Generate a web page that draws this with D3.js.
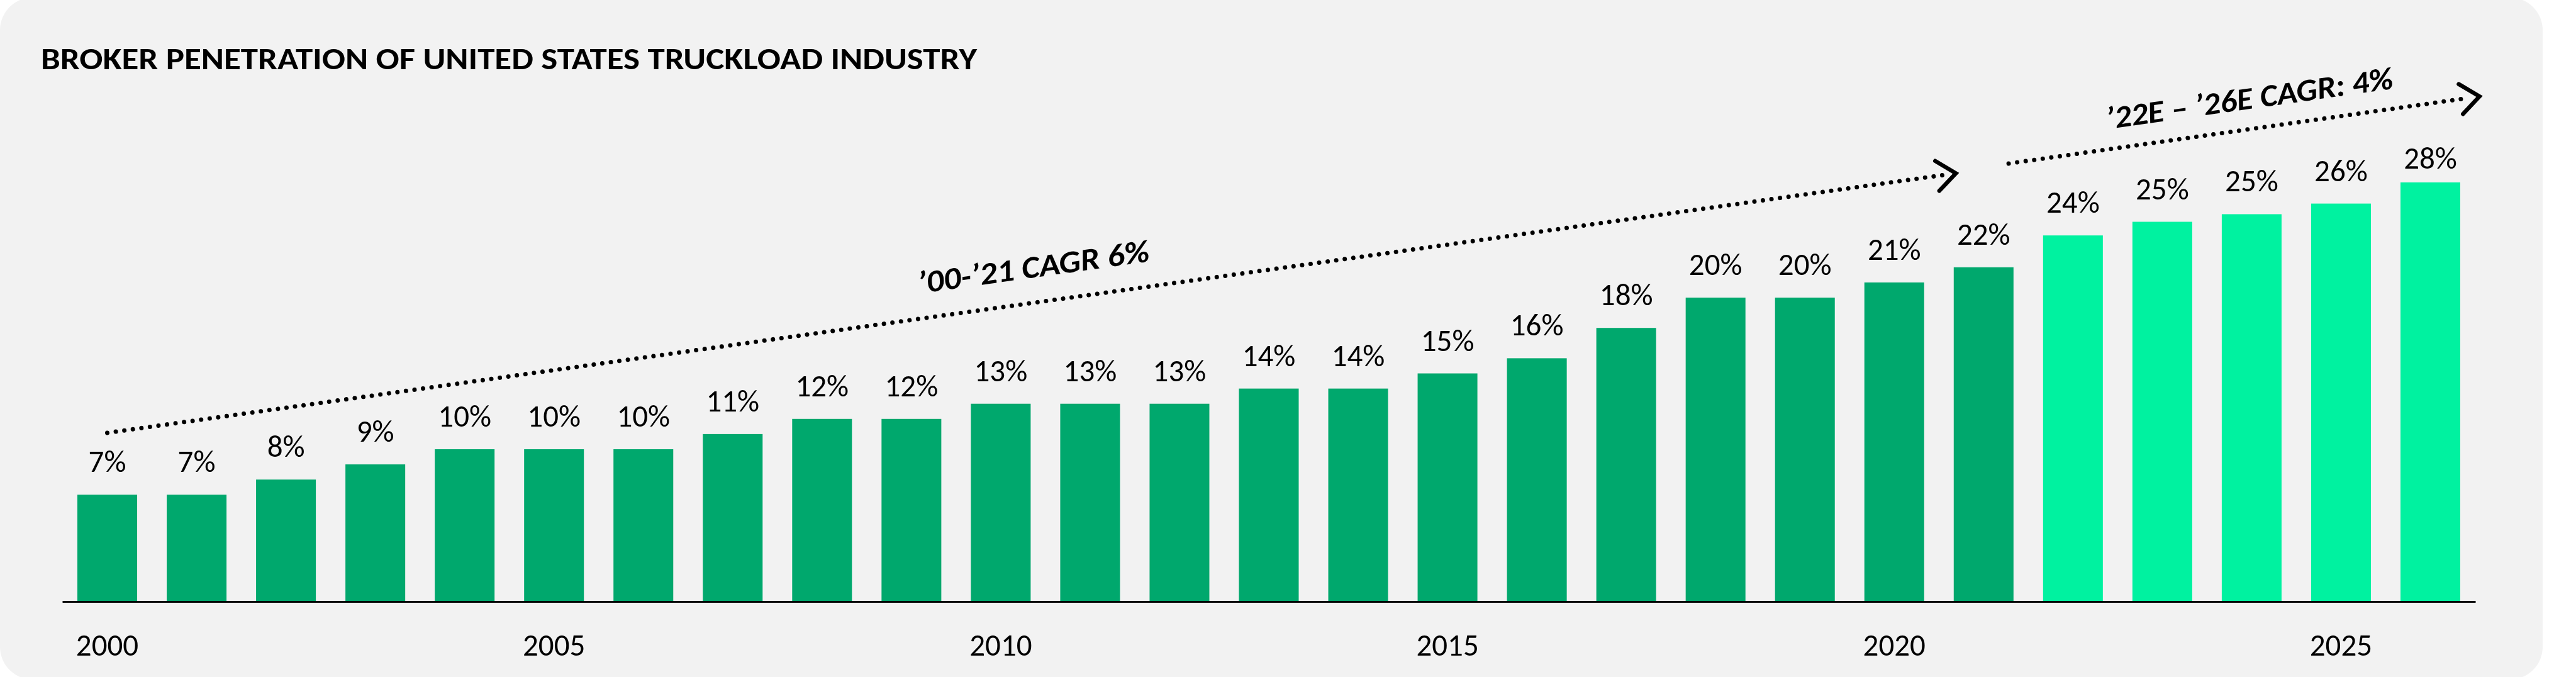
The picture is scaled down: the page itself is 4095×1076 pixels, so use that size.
<!DOCTYPE html>
<html>
<head>
<meta charset="utf-8">
<script src="https://cdn.jsdelivr.net/npm/d3@7"></script>
<style>
  html, body { margin: 0; padding: 0; background: #ffffff; }
  svg { display: block; }
  text { font-family: Carlito, Calibri, Lato, "Noto Sans", sans-serif; fill: #000; }
</style>
</head>
<body>
<svg id="chart" width="4095" height="1076"></svg>
<script>
// ---------------- data ----------------
const title = "BROKER PENETRATION OF UNITED STATES TRUCKLOAD INDUSTRY";
const years = [2000, 2001, 2002, 2003, 2004, 2005, 2006, 2007, 2008, 2009,
               2010, 2011, 2012, 2013, 2014, 2015, 2016, 2017, 2018, 2019,
               2020, 2021, 2022, 2023, 2024, 2025, 2026];
const values = [7, 7, 8, 9, 10, 10, 10, 11, 12, 12,
                13, 13, 13, 14, 14, 15, 16, 18, 20, 20,
                21, 22, 24.1, 25, 25.5, 26.2, 27.6];
const valueLabels = ["7%", "7%", "8%", "9%", "10%", "10%", "10%", "11%", "12%", "12%",
                     "13%", "13%", "13%", "14%", "14%", "15%", "16%", "18%", "20%", "20%",
                     "21%", "22%", "24%", "25%", "25%", "26%", "28%"];
const forecastStartYear = 2022;
const tickYears = [2000, 2005, 2010, 2015, 2020, 2025];
// CAGR annotations: [start year-index, start value], [end year-index, end value]
const cagrLabels = ["\u201900-\u201921 CAGR 6%", "\u201922E \u2013 \u201926E CAGR: 4%"];
const cagrStart = [[0, 11.08], [21.28, 28.84]];
const cagrEnd   = [[20.69, 28.2], [26.55, 33.27]];
const cagrLabelPos = [[10.38, 21.33], [23.99, 32.45]];

// ---------------- layout ----------------
const axisY = 956;
const colorActual = "#00A86D";
const colorForecast = "#00F2A0";

const svg = d3.select("#chart");

// panel background
svg.append("rect")
  .attr("x", 0).attr("y", -4)
  .attr("width", 4042).attr("height", 1084)
  .attr("rx", 52).attr("ry", 52)
  .attr("fill", "#F2F2F2");

// title
svg.append("text")
  .attr("x", 65).attr("y", 110)
  .attr("font-size", 48)
  .attr("font-weight", 700)
  .attr("textLength", 1488)
  .attr("lengthAdjust", "spacingAndGlyphs")
  .text(title);

// scales
const x = d3.scaleBand()
  .domain(years)
  .range([99, 3935])
  .paddingInner(0.331)
  .paddingOuter(0.169);

const y = d3.scaleLinear()
  .domain([0, 30])
  .range([axisY - 1, axisY - 1 - 30 * 24.1]);

// continuous index scale mapping year-index to band centre (for annotations)
const xi = d3.scaleLinear()
  .domain([0, years.length - 1])
  .range([x(years[0]) + x.bandwidth() / 2, x(years[years.length - 1]) + x.bandwidth() / 2]);

const data = years.map((yr, i) => ({ year: yr, value: values[i], label: valueLabels[i], last: i === years.length - 1 }));

// bars
svg.append("g").selectAll("rect")
  .data(data)
  .join("rect")
  .attr("x", d => x(d.year))
  .attr("width", x.bandwidth())
  .attr("y", d => y(d.value))
  .attr("height", d => y(0) - y(d.value))
  .attr("fill", d => d.year >= forecastStartYear ? colorForecast : colorActual);

// value labels
svg.append("g").selectAll("text")
  .data(data)
  .join("text")
  .attr("x", d => x(d.year) + x.bandwidth() / 2)
  .attr("y", d => y(d.value) - (d.last ? 22 : 36))
  .attr("text-anchor", "middle")
  .attr("font-size", 49)
  .text(d => d.label);

// x axis
const xAxis = d3.axisBottom(x)
  .tickValues(tickYears)
  .tickSize(0)
  .tickSizeOuter(0);

const gx = svg.append("g")
  .attr("transform", `translate(0,${axisY})`)
  .call(xAxis);
gx.select(".domain").attr("stroke", "#000").attr("stroke-width", 3);
gx.selectAll(".tick text")
  .attr("y", 86)
  .attr("dy", 0)
  .attr("font-size", 49)
  .attr("font-family", "Carlito, Calibri, Lato, 'Noto Sans', sans-serif")
  .attr("fill", "#000");

// CAGR arrows
const ann = svg.append("g");
cagrLabels.forEach((lab, i) => {
  const x0 = xi(cagrStart[i][0]), y0 = y(cagrStart[i][1]);
  const x1 = xi(cagrEnd[i][0]), y1 = y(cagrEnd[i][1]);
  const ang = Math.atan2(y1 - y0, x1 - x0);
  const len = Math.hypot(x1 - x0, y1 - y0);
  const g = ann.append("g")
    .attr("transform", `translate(${x0},${y0}) rotate(${ang * 180 / Math.PI})`);
  // dotted line
  g.append("line")
    .attr("x1", 0).attr("y1", 0)
    .attr("x2", len - 22).attr("y2", 0)
    .attr("stroke", "#000")
    .attr("stroke-width", 7)
    .attr("stroke-linecap", "round")
    .attr("stroke-dasharray", "0 13.7");
  // chevron head
  g.append("path")
    .attr("d", `M${len - 30},-24 L${len},0 L${len - 30},24`)
    .attr("fill", "none")
    .attr("stroke", "#000")
    .attr("stroke-width", 6.5)
    .attr("stroke-linecap", "round")
    .attr("stroke-linejoin", "miter");

  // label
  const lx = xi(cagrLabelPos[i][0]), ly = y(cagrLabelPos[i][1]);
  ann.append("text")
    .attr("transform", `translate(${lx},${ly}) rotate(${ang * 180 / Math.PI})`)
    .attr("text-anchor", "middle")
    .attr("font-size", 50)
    .attr("font-weight", 700)
    .attr("font-style", "italic")
    .attr("textLength", i === 0 ? 371 : 460)
    .attr("lengthAdjust", "spacingAndGlyphs")
    .text(lab);
});
</script>
</body>
</html>
